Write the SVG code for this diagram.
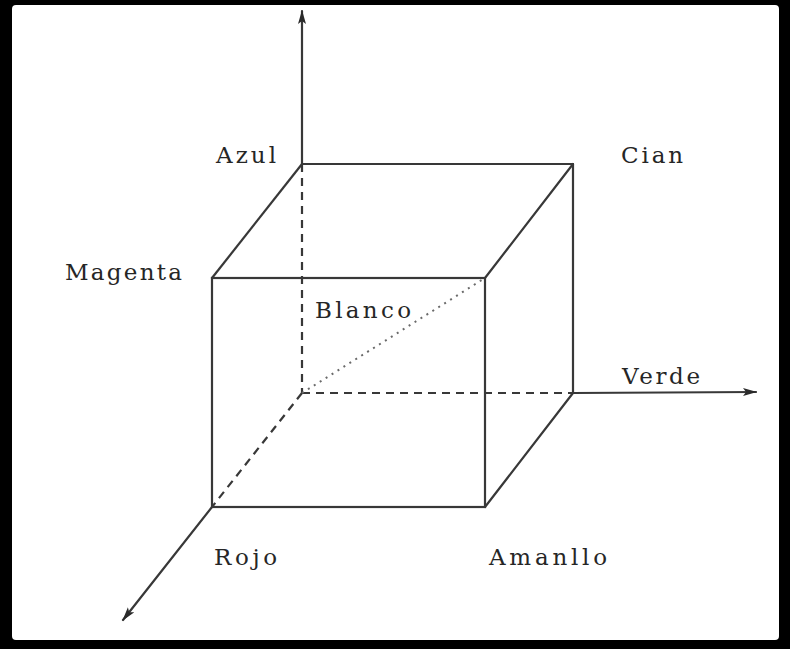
<svg xmlns="http://www.w3.org/2000/svg" width="790" height="649" viewBox="0 0 790 649">
<style>
.edge{stroke:#383838;stroke-width:2.2;fill:none;stroke-linecap:round}
.hidden{stroke:#383838;stroke-width:2.2;fill:none;stroke-dasharray:8 6}
.dotted{stroke:#6a6a6a;stroke-width:2;fill:none;stroke-dasharray:2 5}
.lbl{font-family:"DejaVu Serif","Liberation Serif",serif;font-size:23px;fill:#262626}
</style>
<defs>
<marker id="arrow" viewBox="0 0 14 10" refX="13" refY="5" markerWidth="14" markerHeight="10" markerUnits="userSpaceOnUse" orient="auto">
<path d="M0,1 L14,5 L0,9 L3,5 Z" fill="#2a2a2a"/>
</marker>
</defs>
<rect x="0" y="0" width="790" height="649" fill="#000"/>
<rect x="12" y="5" width="767" height="635" rx="4" fill="#fff"/>
<g id="connectors">
<line class="edge" x1="302" y1="164" x2="302" y2="11" marker-end="url(#arrow)"/>
<line class="edge" x1="573" y1="393" x2="756" y2="392" marker-end="url(#arrow)"/>
<line class="edge" x1="212" y1="507" x2="123" y2="620" marker-end="url(#arrow)"/>
<line class="edge" x1="302" y1="164" x2="573" y2="164"/>
<line class="edge" x1="302" y1="164" x2="212" y2="278"/>
<line class="edge" x1="573" y1="164" x2="485" y2="278"/>
<line class="edge" x1="573" y1="164" x2="573" y2="393"/>
<line class="edge" x1="573" y1="393" x2="485" y2="507"/>
<rect class="edge" x="212" y="278" width="273" height="229"/>
<line class="hidden" x1="302" y1="164" x2="302" y2="393"/>
<line class="hidden" x1="302" y1="393" x2="573" y2="393"/>
<line class="hidden" x1="302" y1="393" x2="212" y2="507" stroke-dasharray="6 6"/>
<line class="dotted" x1="302" y1="393" x2="485" y2="278"/>
</g>
<g id="azul"><text class="lbl" x="216" y="163" textLength="60">Azul</text></g>
<g id="cian"><text class="lbl" x="621" y="163" textLength="62">Cian</text></g>
<g id="magenta"><text class="lbl" x="65" y="280" textLength="117">Magenta</text></g>
<g id="blanco"><text class="lbl" x="315" y="318" textLength="96">Blanco</text></g>
<g id="verde"><text class="lbl" x="622" y="384" textLength="78">Verde</text></g>
<g id="rojo"><text class="lbl" x="214" y="565" textLength="63">Rojo</text></g>
<g id="amanllo"><text class="lbl" x="489" y="565" textLength="118">Amanllo</text></g>
</svg>
